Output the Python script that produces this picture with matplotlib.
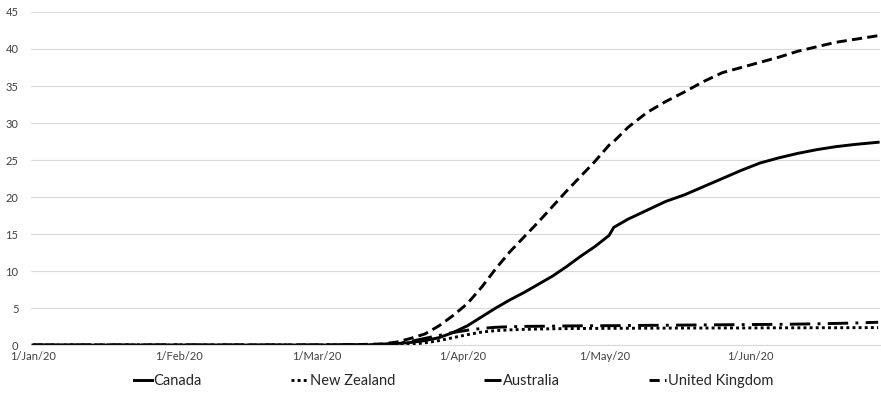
import pandas as pd
import numpy as np
import matplotlib
matplotlib.use("Agg")
import matplotlib.pyplot as plt

plt.rcParams['font.family'] = ['Lato', 'DejaVu Sans']

dates = pd.to_datetime([
	"2020-01-01", "2020-02-01", "2020-03-01", "2020-03-08", "2020-03-12",
	"2020-03-15", "2020-03-18", "2020-03-21", "2020-03-24", "2020-03-27",
	"2020-03-30", "2020-04-02", "2020-04-05", "2020-04-08", "2020-04-11",
	"2020-04-14", "2020-04-17", "2020-04-20", "2020-04-23", "2020-04-26",
	"2020-04-29", "2020-05-02", "2020-05-03", "2020-05-06", "2020-05-10",
	"2020-05-14", "2020-05-18", "2020-05-22", "2020-05-26", "2020-05-30",
	"2020-06-03", "2020-06-07", "2020-06-11", "2020-06-15", "2020-06-19",
	"2020-06-23", "2020-06-28"])

canada = [0, 0, 0, 0.02, 0.03,
	0.1, 0.2, 0.35, 0.6, 1.0,
	1.7, 2.6, 3.8, 5.0, 6.1,
	7.1, 8.2, 9.3, 10.6, 12.0,
	13.3, 14.8, 15.9, 17.0, 18.2,
	19.4, 20.3, 21.4, 22.5, 23.6,
	24.6, 25.3, 25.9, 26.4, 26.8,
	27.1, 27.4]
new_zealand = [0, 0, 0, 0, 0.01,
	0.02, 0.05, 0.1, 0.3, 0.6,
	1.0, 1.4, 1.75, 1.95, 2.05,
	2.12, 2.17, 2.2, 2.22, 2.24,
	2.25, 2.26, 2.26, 2.27, 2.28,
	2.29, 2.3, 2.3, 2.31, 2.31,
	2.32, 2.33, 2.33, 2.34, 2.34,
	2.35, 2.36]
australia = [0, 0, 0, 0.03, 0.05,
	0.1, 0.2, 0.5, 0.9, 1.3,
	1.7, 2.0, 2.25, 2.4, 2.48,
	2.52, 2.54, 2.56, 2.58, 2.6,
	2.61, 2.62, 2.62, 2.64, 2.66,
	2.68, 2.7, 2.72, 2.74, 2.76,
	2.78, 2.8, 2.83, 2.87, 2.92,
	2.98, 3.08]
united_kingdom = [0, 0, 0, 0.05, 0.1,
	0.15, 0.4, 0.9, 1.5, 2.6,
	4.0, 5.6, 7.8, 10.3, 12.6,
	14.6, 16.6, 18.7, 20.8, 22.8,
	24.8, 27.0, 27.5, 29.4, 31.4,
	32.9, 34.2, 35.6, 36.8, 37.5,
	38.2, 38.9, 39.7, 40.3, 40.9,
	41.3, 41.8]

tick_dates = pd.to_datetime(["2020-01-01", "2020-02-01", "2020-03-01",
	"2020-04-01", "2020-05-01", "2020-06-01"])
tick_labels = ["1/Jan/20", "1/Feb/20", "1/Mar/20", "1/Apr/20", "1/May/20", "1/Jun/20"]

fig = plt.figure(figsize=(8.81, 3.93), dpi=100)
ax = fig.add_axes([0.0352, 0.122, 0.9637, 0.8475])

lw = 2.1
ax.plot(dates, canada, color="black", linewidth=lw, label="Canada")
ax.plot(dates, new_zealand, color="black", linewidth=lw, linestyle=(0, (1, 1.1)), label="New Zealand")
ax.plot(dates, australia, color="black", linewidth=lw, linestyle=(0, (7, 2.5, 1, 2.5)), label="Australia")
ax.plot(dates, united_kingdom, color="black", linewidth=lw, linestyle=(0, (3.5, 1.8)), label="United Kingdom")

start = pd.Timestamp("2020-01-01")
ax.set_xlim(start - pd.Timedelta(hours=10), start + pd.Timedelta(days=179.4))
ax.set_ylim(0, 45)
ax.set_yticks(np.arange(0, 46, 5))
ax.set_xticks(tick_dates)
ax.set_xticklabels(tick_labels)
ax.tick_params(axis="both", length=0, labelsize=8, colors="#404040")
ax.tick_params(axis="y", pad=9)
ax.tick_params(axis="x", pad=4)
ax.grid(axis="y", color="#d9d9d9", linewidth=0.8)
ax.set_axisbelow(True)
for s in ["top", "right", "left"]:
	ax.spines[s].set_visible(False)
ax.spines["bottom"].set_color("#d9d9d9")

fig.legend(loc="center", bbox_to_anchor=(0.515, 0.03), ncol=4, frameon=False,
	fontsize=10.5, handlelength=1.2, handletextpad=0.1, columnspacing=6.1,
	labelcolor="#262626")

fig.savefig("out.png", dpi=100)
